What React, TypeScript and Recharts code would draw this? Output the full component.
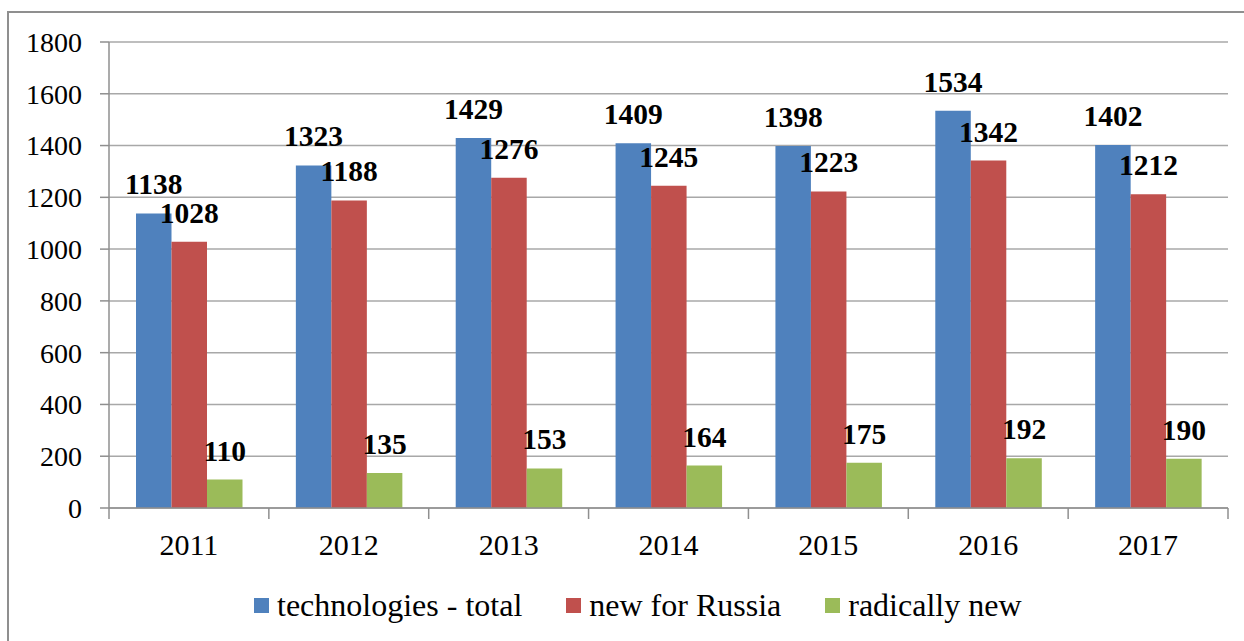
import { BarChart, Bar, XAxis, YAxis, CartesianGrid, LabelList } from 'recharts';

const years = ['2011', '2012', '2013', '2014', '2015', '2016', '2017'];
const totalTech = [1138, 1323, 1429, 1409, 1398, 1534, 1402];
const newForRussia = [1028, 1188, 1276, 1245, 1223, 1342, 1212];
const radicallyNew = [110, 135, 153, 164, 175, 192, 190];
const yTicks = [0, 200, 400, 600, 800, 1000, 1200, 1400, 1600, 1800];

const seriesNames = ['technologies - total', 'new for Russia', 'radically new'];
const seriesColors = ['#4F81BD', '#C0504D', '#9BBB59'];

const data = years.map((year, i) => ({
    year,
    total: totalTech[i],
    newRu: newForRussia[i],
    radical: radicallyNew[i],
}));

const serif = '"Liberation Serif", "Times New Roman", serif';
const axisGrey = '#8f8f8f';

// category label plus the tick marks that sit on band boundaries
function YearTick(props: any) {
    const { x, y, payload, index, visibleTicksCount } = props;
    const half = payload.offset || 0;
    const top = y - 11;
    const isLast = index === visibleTicksCount - 1;
    return (
        <g>
            <line x1={x - half} x2={x - half} y1={top} y2={y} stroke={axisGrey} strokeWidth={1.5} />
            {isLast && <line x1={x + half} x2={x + half} y1={top} y2={y} stroke={axisGrey} strokeWidth={1.5} />}
            <text x={x} y={y} dy={36} textAnchor="middle" fontSize={30} style={{ fontFamily: serif }} fill="#000">
                {payload.value}
            </text>
        </g>
    );
}

const labelStyle = { fontSize: 29.5, fontWeight: 700, fontFamily: serif, fill: '#000' };

export default function App() {
    return (
        <div style={{ position: 'absolute', left: 0, top: 0, width: 1244, height: 641, background: '#fff', overflow: 'hidden' }}>
            <div style={{ position: 'absolute', left: 7, top: 11, right: -4, bottom: -4, borderTop: `2px solid ${axisGrey}`, borderLeft: `2px solid ${axisGrey}` }} />
            <div style={{ position: 'absolute', left: 0, top: 0 }}>
                <BarChart width={1244} height={641} data={data} margin={{ top: 42, right: 16, left: 0, bottom: 0 }} barGap={0} barSize={35.5}>
                    <CartesianGrid vertical={false} stroke="#a8a8a8" strokeWidth={1.5} />
                    <XAxis dataKey="year" height={133} tickLine={false} tickSize={11} tickMargin={0} axisLine={{ stroke: axisGrey, strokeWidth: 1.5 }} tick={<YearTick />} interval={0} />
                    <YAxis width={109} domain={[0, 1800]} ticks={yTicks} interval={0} tickSize={9} tickMargin={18} axisLine={{ stroke: axisGrey, strokeWidth: 1.5 }} tickLine={{ stroke: axisGrey, strokeWidth: 1.5 }} tick={{ fontSize: 28, fontFamily: serif, fill: '#000' }} />
                    <Bar dataKey="total" fill={seriesColors[0]} isAnimationActive={false}>
                        <LabelList dataKey="total" position="top" offset={19} style={labelStyle} />
                    </Bar>
                    <Bar dataKey="newRu" fill={seriesColors[1]} isAnimationActive={false}>
                        <LabelList dataKey="newRu" position="top" offset={19} style={labelStyle} />
                    </Bar>
                    <Bar dataKey="radical" fill={seriesColors[2]} isAnimationActive={false}>
                        <LabelList dataKey="radical" position="top" offset={19} style={labelStyle} />
                    </Bar>
                </BarChart>
            </div>
            <div style={{ position: 'absolute', left: 254, top: 589, display: 'flex', alignItems: 'center', fontFamily: serif, fontSize: 32, lineHeight: '32px', color: '#000', whiteSpace: 'nowrap' }}>
                {seriesNames.map((name, i) => (
                    <div key={name} style={{ display: 'flex', alignItems: 'center', marginRight: 44 }}>
                        <span style={{ width: 15, height: 15, background: seriesColors[i], marginRight: 8, display: 'inline-block' }} />
                        <span>{name}</span>
                    </div>
                ))}
            </div>
        </div>
    );
}
